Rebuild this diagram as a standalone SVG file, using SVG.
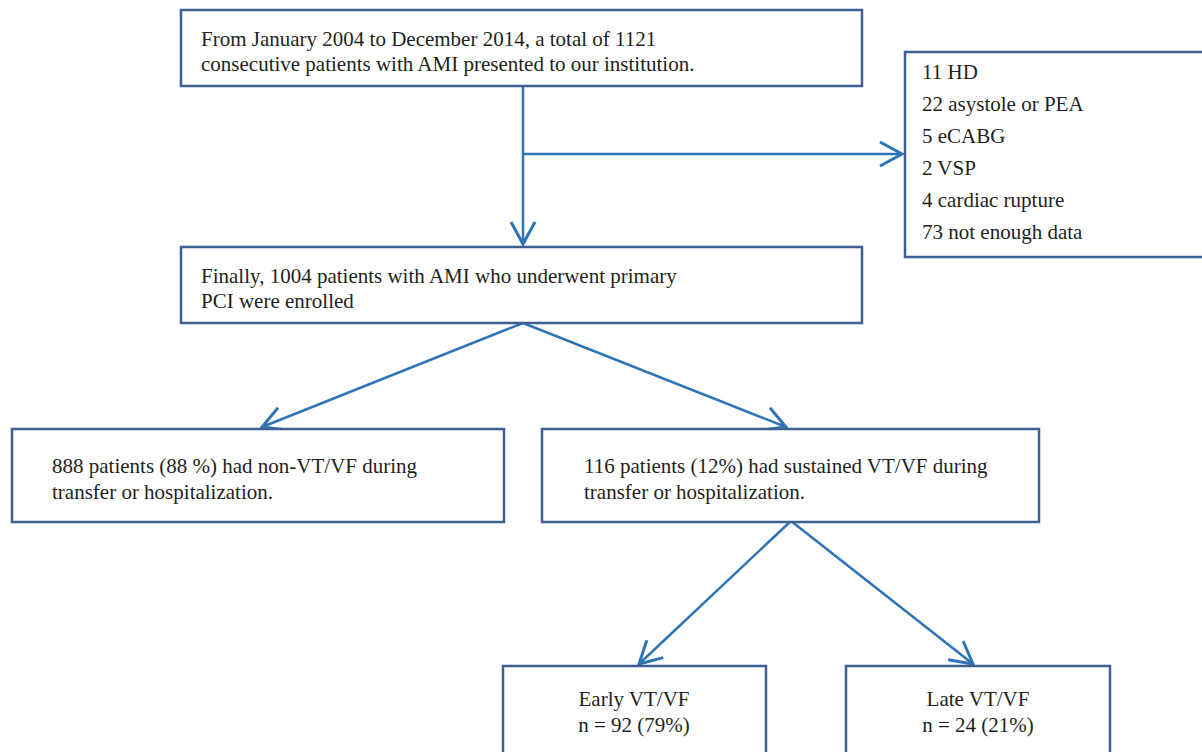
<svg xmlns="http://www.w3.org/2000/svg" width="1202" height="752" viewBox="0 0 1202 752">
<style>
.box{fill:#fff;stroke:#3d5f92;stroke-width:2.5}
.t{font-family:"Liberation Serif","Times New Roman",serif;font-size:21px;fill:#231f20}
.c{text-anchor:middle}
.ln{fill:none;stroke:#2e74b5;stroke-width:2.5}
</style>
<defs>
<marker id="ah" markerUnits="userSpaceOnUse" markerWidth="30" markerHeight="30" viewBox="-26 -15 30 30" refX="0" refY="0" orient="auto">
<path d="M-22,-12 L0,0 L-22,12" fill="none" stroke="#2e74b5" stroke-width="3"/>
</marker>
</defs>
<rect width="1202" height="752" fill="#fff"/>
<g id="connectors">
<line class="ln" x1="523" y1="86" x2="523" y2="244" marker-end="url(#ah)"/>
<line class="ln" x1="523" y1="154" x2="902" y2="154" marker-end="url(#ah)"/>
<line class="ln" x1="523" y1="323" x2="262" y2="427" marker-end="url(#ah)"/>
<line class="ln" x1="523" y1="323" x2="786" y2="427" marker-end="url(#ah)"/>
<line class="ln" x1="791" y1="521" x2="639" y2="664" marker-end="url(#ah)"/>
<line class="ln" x1="791" y1="521" x2="973" y2="664" marker-end="url(#ah)"/>
</g>
<g id="n1">
<rect class="box" x="181" y="10" width="681" height="76"/>
<text class="t" x="201" y="46">From January 2004 to December 2014, a total of 1121</text>
<text class="t" x="201" y="71">consecutive patients with AMI presented to our institution.</text>
</g>
<g id="n2">
<rect class="box" x="905" y="52" width="310" height="205"/>
<text class="t" x="922" y="79">11 HD</text>
<text class="t" x="922" y="111">22 asystole or PEA</text>
<text class="t" x="922" y="143">5 eCABG</text>
<text class="t" x="922" y="175">2 VSP</text>
<text class="t" x="922" y="207">4 cardiac rupture</text>
<text class="t" x="922" y="239">73 not enough data</text>
</g>
<g id="n3">
<rect class="box" x="181" y="247" width="681" height="76"/>
<text class="t" x="201" y="283">Finally, 1004 patients with AMI who underwent primary</text>
<text class="t" x="201" y="308">PCI were enrolled</text>
</g>
<g id="n4">
<rect class="box" x="12" y="429" width="492" height="93"/>
<text class="t" x="52" y="473">888 patients (88 %) had non-VT/VF during</text>
<text class="t" x="52" y="499">transfer or hospitalization.</text>
</g>
<g id="n5">
<rect class="box" x="542" y="429" width="497" height="93"/>
<text class="t" x="584" y="473">116 patients (12%) had sustained VT/VF during</text>
<text class="t" x="584" y="499">transfer or hospitalization.</text>
</g>
<g id="n6">
<rect class="box" x="503" y="666" width="263" height="100"/>
<text class="t c" x="634" y="706">Early VT/VF</text>
<text class="t c" x="634" y="732">n = 92 (79%)</text>
</g>
<g id="n7">
<rect class="box" x="846" y="666" width="264" height="100"/>
<text class="t c" x="978" y="706">Late VT/VF</text>
<text class="t c" x="978" y="732">n = 24 (21%)</text>
</g>
</svg>
